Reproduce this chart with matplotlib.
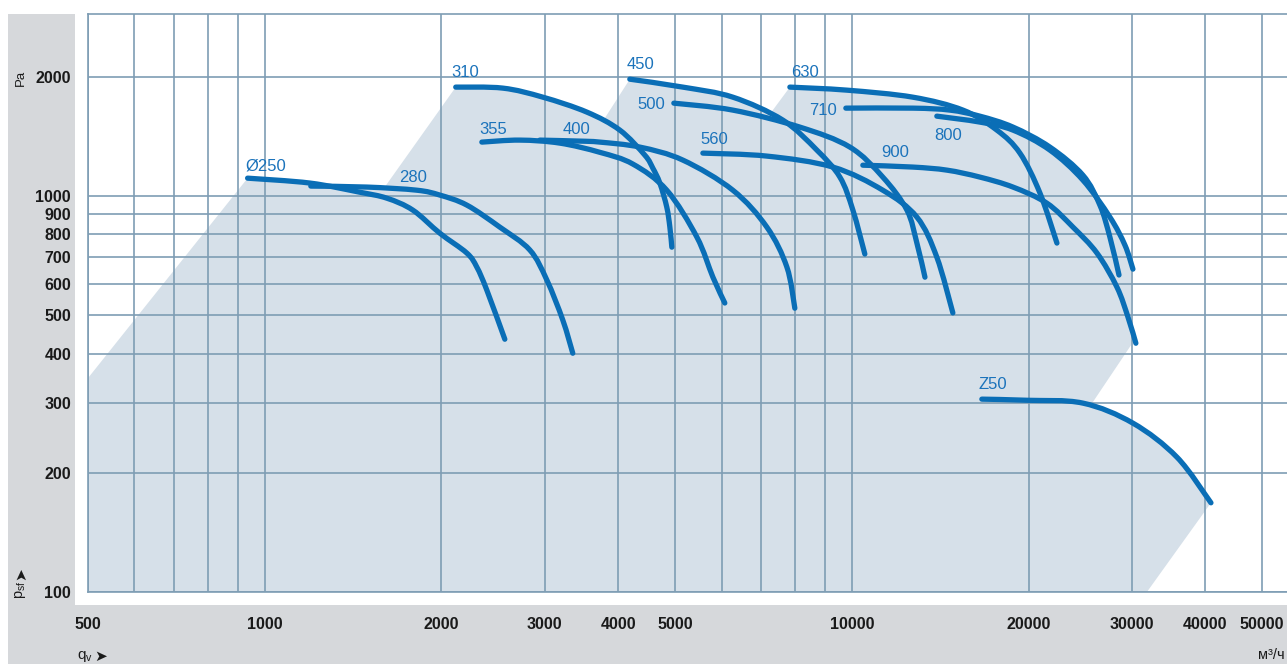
import matplotlib
matplotlib.use("Agg")
import matplotlib.pyplot as plt
from matplotlib.patches import Rectangle, Polygon, PathPatch
from matplotlib.path import Path
import numpy as np

plt.rcParams['font.family'] = ['Liberation Sans', 'DejaVu Sans']

# ---------------- data (flow q in m3/h, pressure p in Pa) ----------------
q_250 = [935, 1193, 1451, 1614, 1787, 1987, 2209, 2297, 2389, 2564]
p_250 = [1110, 1079, 1023, 988, 922, 806, 718, 662, 579, 435]

q_280 = [1198, 1492, 1815, 1987, 2209, 2514, 2828, 3023, 3219, 3347]
p_280 = [1060, 1054, 1035, 1006, 949, 835, 731, 614, 486, 401]

q_310 = [2115, 2544, 2976, 3537, 4025, 4440, 4581, 4709, 4839, 4898, 4936]
p_310 = [1885, 1874, 1778, 1630, 1468, 1269, 1177, 1079, 938, 835, 743]

q_355 = [2343, 2719, 3181, 3722, 4236, 4839, 5445, 5799, 6076]
p_355 = [1369, 1385, 1361, 1290, 1205, 1035, 788, 624, 537]

q_400 = [2941, 3441, 3722, 4352, 5154, 6270, 7165, 7750, 7996]
p_400 = [1385, 1377, 1369, 1330, 1233, 1035, 835, 662, 521]

q_450 = [4186, 5154, 6270, 7628, 8717, 9541, 10040, 10522]
p_450 = [1974, 1885, 1778, 1556, 1307, 1117, 922, 714]

q_500 = [4975, 6270, 8154, 9922, 11290, 12410, 12905, 13320]
p_500 = [1717, 1649, 1494, 1330, 1117, 922, 761, 624]

q_560 = [5575, 7165, 9281, 11290, 12905, 13955, 14860]
p_560 = [1284, 1262, 1184, 1035, 885, 701, 507]

q_630 = [7842, 9806, 12700, 15460, 17660, 19330, 20910, 22350]
p_630 = [1885, 1852, 1778, 1649, 1468, 1284, 1018, 761]

q_710 = [9767, 12700, 14690, 16520, 18810, 21740, 24740, 26450, 27510, 28510]
p_710 = [1668, 1668, 1649, 1592, 1494, 1330, 1130, 949, 788, 632]

q_800 = [13955, 16520, 18810, 21740, 24740, 27510, 29180, 30110]
p_800 = [1592, 1538, 1468, 1307, 1098, 885, 752, 654]

q_900 = [10440, 12700, 14520, 16520, 18810, 21480, 23800, 26150, 28280, 29530, 30460]
p_900 = [1197, 1184, 1163, 1117, 1054, 960, 835, 718, 589, 495, 425]

q_z50 = [16650, 19870, 24740, 30110, 35790, 40890]
p_z50 = [307, 305, 300, 267, 219, 168]

curve_names = ["Ø250", "280", "310", "355", "400", "450", "500", "560",
               "630", "710", "800", "900", "Z50"]
curves_q = [q_250, q_280, q_310, q_355, q_400, q_450, q_500, q_560,
            q_630, q_710, q_800, q_900, q_z50]
curves_p = [p_250, p_280, p_310, p_355, p_400, p_450, p_500, p_560,
            p_630, p_710, p_800, p_900, p_z50]

# operating range envelope
env_q = [500, 935, 1193, 1492, 1601, 2115, 2544, 2976, 3795, 4186, 5154, 6270,
         7250, 7842, 9806, 12700, 15460, 18810, 21740, 24740, 27510, 29180,
         29880, 29880, 25740, 30110, 35790, 40890, 31810, 500]
env_p = [347, 1110, 1079, 1054, 1054, 1885, 1874, 1778, 1574, 1974, 1885, 1778,
         1611, 1885, 1852, 1778, 1649, 1494, 1330, 1110, 885, 752,
         658, 420, 302, 267, 219, 168, 100, 100]

x_major = [500, 1000, 2000, 3000, 4000, 5000, 10000, 20000, 30000, 40000, 50000]
x_minor = [600, 700, 800, 900, 6000, 7000, 8000, 9000]
y_ticks = [100, 200, 300, 400, 500, 600, 700, 800, 900, 1000, 2000]

# label anchor positions (data coords)
label_pos = {
    "Ø250": (1004, 1190), "280": (1787, 1117), "310": (2191, 2057),
    "355": (2446, 1476), "400": (3401, 1476), "450": (4369, 2154),
    "500": (4562, 1707), "560": (5822, 1393), "630": (8318, 2057),
    "710": (8925, 1649), "800": (14570, 1426), "900": (11840, 1291),
    "Z50": (17390, 335),
}


def smooth_path(qs, ps):
    """Cubic Bezier path through the read points (Catmull-Rom in log space)."""
    lx = np.log10(np.asarray(qs, float))
    ly = np.log10(np.asarray(ps, float))
    pts = np.column_stack([lx, ly])
    n = len(pts)
    verts = [pts[0]]
    codes = [Path.MOVETO]
    for i in range(n - 1):
        p0 = pts[i - 1] if i > 0 else pts[i]
        p1 = pts[i]
        p2 = pts[i + 1]
        p3 = pts[i + 2] if i + 2 < n else pts[i + 1]
        c1 = p1 + (p2 - p0) / 6.0
        c2 = p2 - (p3 - p1) / 6.0
        verts += [c1, c2, p2]
        codes += [Path.CURVE4] * 3
    verts = 10 ** np.array(verts)
    return Path(verts, codes)


# ---------------- figure ----------------
W, H = 1287, 664
fig = plt.figure(figsize=(W / 100, H / 100), dpi=100)
fig.patch.set_facecolor('white')

strip_col = '#d6d8db'
fig.patches.append(Rectangle((8 / W, 0), 67 / W, (H - 14) / H,
                             transform=fig.transFigure, facecolor=strip_col,
                             edgecolor='none', zorder=-5))
fig.patches.append(Rectangle((8 / W, 0), (W - 8) / W, (H - 605) / H,
                             transform=fig.transFigure, facecolor=strip_col,
                             edgecolor='none', zorder=-5))

ax = fig.add_axes([88 / W, (H - 592) / H, (W - 88) / W, (592 - 14) / H])
ax.set_xscale('log')
ax.set_yscale('log')
ax.set_xlim(500, 55100)
ax.set_ylim(100, 2884)

grid_col = '#7e9db4'
ax.add_patch(Polygon(np.column_stack([env_q, env_p]), closed=True,
                     facecolor='#d6e0e9', edgecolor='none', zorder=1))

ax.set_xticks(x_major)
ax.set_xticklabels([str(v) for v in x_major])
ax.set_xticks(x_minor, minor=True)
ax.set_xticklabels([], minor=True)
ax.set_yticks(y_ticks)
ax.set_yticklabels([str(v) for v in y_ticks])
ax.yaxis.set_minor_locator(matplotlib.ticker.NullLocator())
ax.grid(True, which='both', color=grid_col, linewidth=1.2)
ax.tick_params(which='both', length=0)
ax.tick_params(axis='y', pad=12.2, labelsize=11.5)
ax.tick_params(axis='x', pad=18, labelsize=11.5)
for lab in ax.get_xticklabels() + ax.get_yticklabels():
    lab.set_fontweight('bold')
    lab.set_color('#1a1a1a')
for s in ['left', 'top', 'bottom']:
    ax.spines[s].set_color(grid_col)
    ax.spines[s].set_linewidth(1.2)
ax.spines['right'].set_visible(False)

line_col = '#0a6eb6'
for name, qs, ps in zip(curve_names, curves_q, curves_p):
    ax.add_patch(PathPatch(smooth_path(qs, ps), facecolor='none',
                           edgecolor=line_col, linewidth=3.8,
                           capstyle='round', joinstyle='round', zorder=3))
    lx, ly = label_pos[name]
    ax.text(lx, ly, name, color='#1b73bb', fontsize=12, ha='center',
            va='center', zorder=4)

fig.text(21 / W, 1 - 78 / H, 'Pa', rotation=90, ha='center', va='center',
         fontsize=9.5, color='#1a1a1a')
fig.text(21 / W, 1 - 590 / H, r'$\mathregular{p_{sf}}$', rotation=90,
         ha='center', va='center', fontsize=10.5, color='#1a1a1a')
fig.text(21 / W, 1 - 574 / H, '➤', rotation=90, ha='center', va='center',
         fontsize=11, color='#1a1a1a', family='DejaVu Sans')
fig.text(77 / W, 1 - 656 / H, r'$\mathregular{q_v}$', ha='left',
         va='center', fontsize=11, color='#1a1a1a')
fig.text(94 / W, 1 - 656 / H, '➤', ha='left', va='center',
         fontsize=11, color='#1a1a1a', family='DejaVu Sans')
fig.text(1285 / W, 1 - 655 / H, 'м³/ч', ha='right', va='center',
         fontsize=10.5, color='#1a1a1a')

fig.savefig('out.png', dpi=100)
